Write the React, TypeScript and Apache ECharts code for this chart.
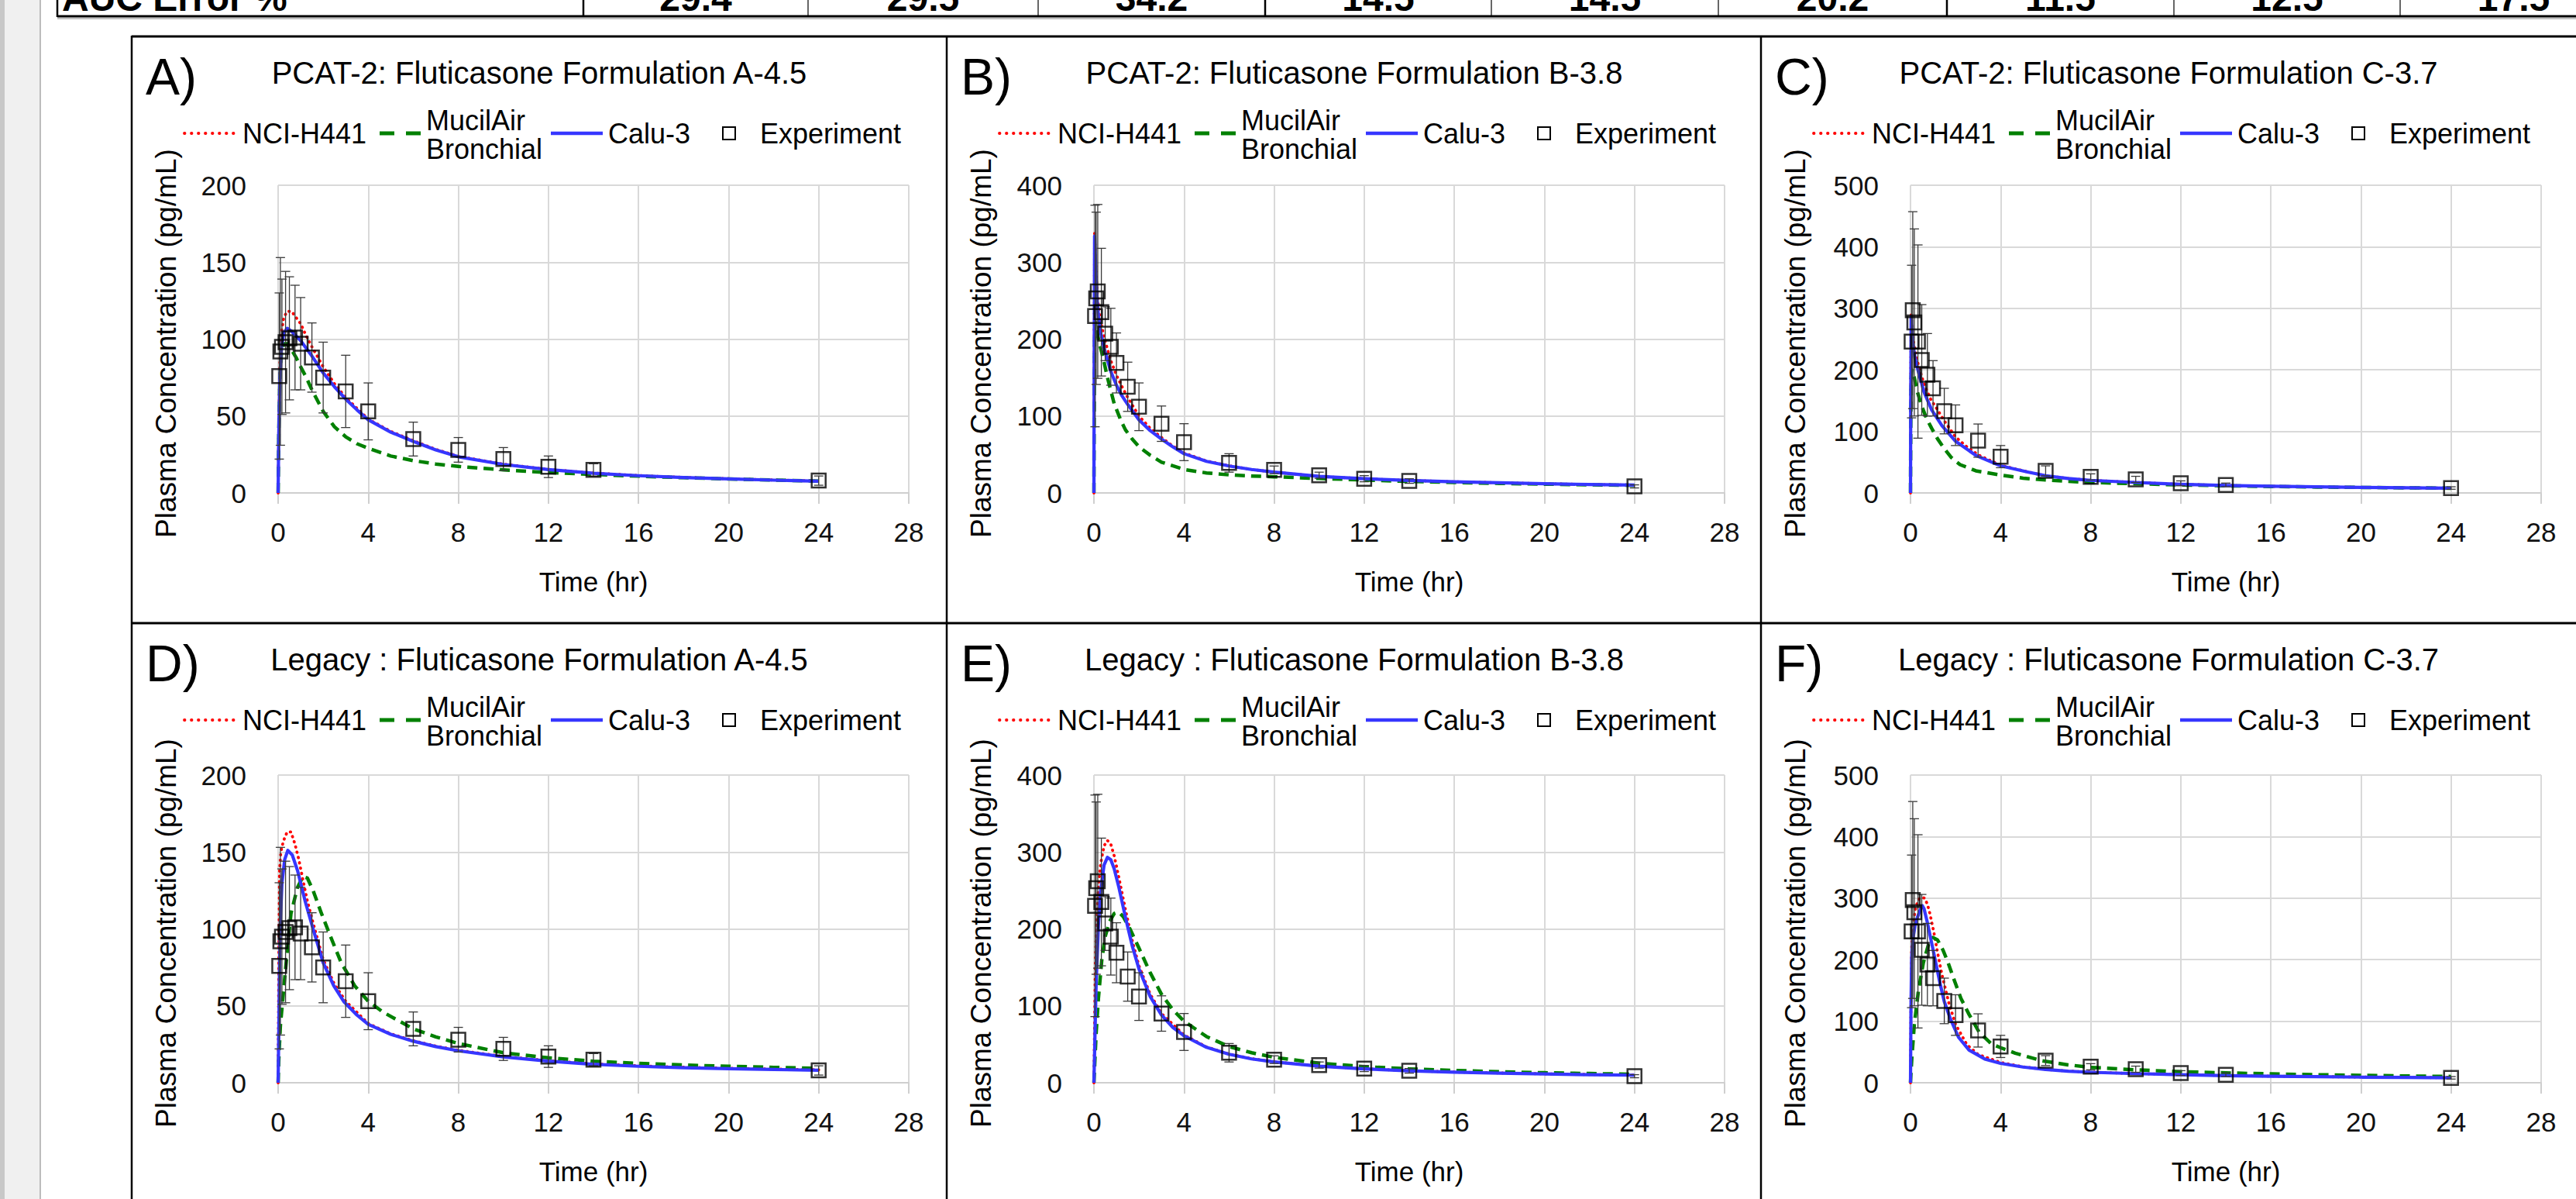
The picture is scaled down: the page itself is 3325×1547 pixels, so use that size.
import { useEffect, useRef } from "react";
import * as echarts from "echarts";

// ---------------- DATA ----------------
const TIME_EXP = [0.05, 0.1, 0.17, 0.33, 0.5, 0.75, 1, 1.5, 2, 3, 4, 6, 8, 10, 12, 14, 24];

const EXP_FORM_A = [76, 92, 95, 98, 100.5, 101, 97, 88, 75, 66, 53, 35, 28, 22, 17, 15, 8];
const SD_FORM_A = [54, 61, 44, 46, 40, 34, 30, 22.5, 23, 23.5, 18.5, 11, 8, 7.5, 7, 4, 3];
const EXP_FORM_B = [230, 253, 262, 235, 207, 190, 169, 138, 112, 90, 66, 39, 30, 23, 18.5, 15.5, 8.5];
const SD_FORM_B = [144, 112, 113, 83, 35, 50, 39, 32, 31, 23, 24, 12, 5, 4, 4, 3, 2];
const EXP_FORM_C = [246, 297, 277, 246, 216, 192, 170, 133, 110, 85, 59, 36, 26, 22, 15.6, 13, 8];
const SD_FORM_C = [124, 160, 152, 157, 90, 67, 45, 37, 33, 27, 18, 8, 5, 5, 4, 3, 2];

// PCAT-2 model curves [time hr, conc pg/mL]
const NCI_PCAT_A = [[0,0],[0.03,45],[0.08,85],[0.15,105],[0.25,114],[0.4,118],[0.6,118],[0.8,114],[1,110],[1.25,102],[1.5,95],[2,82],[2.5,71],[3,62],[3.5,55],[4,48],[5,40],[6,34],[7,28.3],[8,23.8],[10,18.7],[12,15.3],[14,12.9],[16,11.3],[18,10.1],[20,9.2],[22,8.4],[24,7.7]];
const MUC_PCAT_A = [[0,0],[0.03,40],[0.08,75],[0.15,92],[0.25,97],[0.4,97],[0.6,93],[0.8,88],[1,82],[1.25,75],[1.5,67],[2,53],[2.5,43],[3,36.5],[3.5,32],[4,29],[5,24],[6,21],[7,18.8],[8,17.2],[10,15],[12,13.3],[14,12],[16,10.9],[18,9.9],[20,9.1],[22,8.4],[24,7.7]];
const CALU_PCAT_A = [[0,0],[0.03,40],[0.08,75],[0.15,95],[0.25,104],[0.4,107],[0.6,105],[0.8,102],[1,99],[1.25,94],[1.5,89],[2,78],[2.5,69],[3,61],[3.5,54],[4,47.5],[5,39.5],[6,33.5],[7,28],[8,23.5],[10,18.5],[12,15.2],[14,12.8],[16,11.2],[18,10],[20,9.1],[22,8.3],[24,7.6]];

const NCI_PCAT_B = [[0,0],[0.01,150],[0.03,338],[0.06,315],[0.1,285],[0.15,260],[0.2,243],[0.3,222],[0.5,197],[0.75,172],[1,153],[1.25,138],[1.5,124],[2,100],[2.5,84],[3,72],[3.5,61],[4,52],[5,41.5],[6,35.3],[7,30.5],[8,27],[10,21.5],[12,18.5],[14,16.2],[16,14.5],[18,13.2],[20,12],[22,11],[24,10.2]];
const MUC_PCAT_B = [[0,0],[0.01,100],[0.03,210],[0.06,222],[0.1,215],[0.2,200],[0.3,188],[0.45,170],[0.6,150],[0.9,116],[1.2,94],[1.4,82],[1.7,70],[2,60],[2.5,49],[3,40],[4,30.5],[5,26],[6,23.5],[7,22],[8,21],[10,18.8],[12,16.8],[14,15],[16,13.6],[18,12.4],[20,11.4],[22,10.6],[24,9.8]];
const CALU_PCAT_B = [[0,0],[0.01,150],[0.03,334],[0.06,310],[0.1,275],[0.15,248],[0.2,230],[0.3,208],[0.5,183],[0.75,158],[1,140],[1.25,126],[1.5,115],[2,95],[2.5,81],[3,70],[3.5,60],[4,51],[5,41],[6,35],[7,30.5],[8,27],[10,21.5],[12,18.5],[14,16.2],[16,14.5],[18,13.2],[20,12],[22,11],[24,10.2]];

const NCI_PCAT_C = [[0,0],[0.01,150],[0.03,290],[0.06,272],[0.1,255],[0.2,230],[0.37,205],[0.6,177],[0.9,152],[1.2,135],[1.5,117],[2,91],[2.5,75],[3,62],[4,45],[5.2,34.2],[6,28],[7,23.5],[8,20.5],[10,17],[12,14],[14,12],[16,10.8],[18,9.8],[20,9],[22,8.3],[24,7.7]];
const MUC_PCAT_C = [[0,0],[0.01,100],[0.03,190],[0.06,200],[0.1,196],[0.16,189],[0.3,165],[0.48,143],[0.7,122],[0.94,105],[1.2,88],[1.5,72],[1.8,58],[2.2,46],[2.9,36],[4,29],[5,24],[6,21],[7,18.8],[8,17],[10,15],[12,13],[14,11.6],[16,10.5],[18,9.6],[20,8.9],[22,8.3],[24,7.7]];
const CALU_PCAT_C = [[0,0],[0.01,150],[0.03,286],[0.06,265],[0.1,245],[0.2,219],[0.37,194],[0.6,164],[0.94,135],[1.4,109],[2,84],[2.9,61],[4,44],[5.2,34],[6,28],[7,23.5],[8,20.5],[10,17],[12,14],[14,12],[16,10.8],[18,9.8],[20,9],[22,8.3],[24,7.7]];

// Legacy model curves
const NCI_LEG_A = [[0,0],[0.03,80],[0.06,137],[0.12,150],[0.23,157],[0.4,163],[0.57,163],[0.75,155],[0.92,145],[1.1,132],[1.3,118],[1.55,104],[2,80],[2.5,64],[3,53],[4,38.5],[5,31.8],[6,27.3],[7,23.8],[8,21.1],[10,17.1],[12,14.3],[14,12.3],[16,11],[18,10.1],[20,9.4],[22,8.9],[24,8.4]];
const MUC_LEG_A = [[0,0],[0.03,15],[0.06,25],[0.1,37],[0.23,58],[0.4,85],[0.57,110],[0.86,127],[1.1,134],[1.3,133],[1.55,125],[1.9,111],[2.3,96],[2.8,78],[3.4,63],[4,53],[4.65,46],[6,35],[7,29.8],[8,25.5],[10,19.5],[12,16.2],[14,14],[16,12.6],[18,11.5],[20,10.7],[22,10],[24,9.4]];
const CALU_LEG_A = [[0,0],[0.03,35],[0.06,71],[0.1,105],[0.17,130],[0.29,145],[0.43,151],[0.63,148],[0.86,138],[1.2,118],[1.55,100],[2,78],[2.47,63],[2.93,52.5],[3.5,44],[4,38],[5,31.5],[6,27],[7,23.5],[8,20.8],[10,16.8],[12,14],[14,12],[16,10.7],[18,9.8],[20,9.1],[22,8.6],[24,8.1]];

const NCI_LEG_B = [[0,0],[0.03,80],[0.06,150],[0.1,200],[0.2,255],[0.3,285],[0.45,308],[0.6,315],[0.75,310],[0.9,295],[1.1,268],[1.4,225],[1.7,185],[2,152],[2.5,115],[3,90],[4,62],[5,46.5],[6,37.3],[7,31.3],[8,27.2],[10,21.7],[12,18.2],[14,15.7],[16,14],[18,12.7],[20,11.6],[22,10.7],[24,10]];
const MUC_LEG_B = [[0,0],[0.03,20],[0.06,40],[0.1,65],[0.2,110],[0.35,160],[0.5,190],[0.7,210],[0.9,220],[1.1,222],[1.3,216],[1.6,200],[2,175],[2.5,143],[3,115],[3.5,95],[4,80],[5,60],[6,47],[7,39],[8,33],[10,25.5],[12,21],[14,18],[16,16],[18,14.3],[20,13],[22,12],[24,11]];
const CALU_LEG_B = [[0,0],[0.03,40],[0.06,80],[0.1,130],[0.2,205],[0.3,250],[0.45,283],[0.6,293],[0.75,290],[0.9,278],[1.1,255],[1.4,215],[1.7,178],[2,148],[2.5,112],[3,88],[3.5,72],[4,61],[5,46],[6,37],[7,31],[8,27],[10,21.5],[12,18],[14,15.5],[16,13.8],[18,12.5],[20,11.4],[22,10.5],[24,9.8]];

const NCI_LEG_C = [[0,0],[0.02,120],[0.05,215],[0.1,250],[0.2,280],[0.35,298],[0.5,301],[0.63,300],[0.75,290],[0.86,275],[1.03,246],[1.2,212],[1.4,175],[1.7,130],[2,95],[2.5,62],[3,46],[4,33],[5,25.8],[6,21.7],[7,19],[8,17.2],[10,15],[12,13.2],[14,11.8],[16,10.8],[18,10],[20,9.3],[22,8.8],[24,8.3]];
const MUC_LEG_C = [[0,0],[0.02,15],[0.06,40],[0.17,95],[0.35,149],[0.57,195],[0.8,225],[1,236],[1.2,232],[1.45,215],[1.67,195],[1.95,166],[2.24,137],[2.6,111],[3.05,82],[3.6,63],[4,57],[4.65,48],[5.8,36],[7,29],[8,25],[10,21],[12,18],[14,16],[16,14.4],[18,13.1],[20,12],[22,11],[24,10.2]];
const CALU_LEG_C = [[0,0],[0.02,120],[0.05,200],[0.1,232],[0.2,255],[0.3,268],[0.4,278],[0.52,288],[0.6,283],[0.75,260],[0.98,220],[1.15,190],[1.32,160],[1.5,132],[1.78,103],[2.13,74],[2.6,53],[3.3,38.5],[4,31.5],[5,25.5],[6,21.5],[7,18.8],[8,17],[10,14.8],[12,13],[14,11.6],[16,10.6],[18,9.8],[20,9.1],[22,8.6],[24,8.1]];

const PANEL_LABELS = ["A)", "B)", "C)", "D)", "E)", "F)"];
const PANEL_TITLES = [
  "PCAT-2: Fluticasone Formulation A-4.5",
  "PCAT-2: Fluticasone Formulation B-3.8",
  "PCAT-2: Fluticasone Formulation C-3.7",
  "Legacy : Fluticasone Formulation A-4.5",
  "Legacy : Fluticasone Formulation B-3.8",
  "Legacy : Fluticasone Formulation C-3.7",
];
const Y_MAX = [200, 400, 500, 200, 400, 500];
const Y_STEP = [50, 100, 100, 50, 100, 100];
const X_MAX = 28;
const X_STEP = 4;
const SERIES_NAMES = ["NCI-H441", "MucilAir", "Bronchial", "Calu-3", "Experiment"];
const X_TITLE = "Time (hr)";
const Y_TITLE = "Plasma Concentration (pg/mL)";
const TABLE_LABEL = "AUC Error %";
const TABLE_VALUES = ["29.4", "29.5", "34.2", "14.5", "14.5", "20.2", "11.5", "12.5", "17.5"];

const NCI_CURVES = [NCI_PCAT_A, NCI_PCAT_B, NCI_PCAT_C, NCI_LEG_A, NCI_LEG_B, NCI_LEG_C];
const MUC_CURVES = [MUC_PCAT_A, MUC_PCAT_B, MUC_PCAT_C, MUC_LEG_A, MUC_LEG_B, MUC_LEG_C];
const CALU_CURVES = [CALU_PCAT_A, CALU_PCAT_B, CALU_PCAT_C, CALU_LEG_A, CALU_LEG_B, CALU_LEG_C];
const EXP_SETS = [EXP_FORM_A, EXP_FORM_B, EXP_FORM_C, EXP_FORM_A, EXP_FORM_B, EXP_FORM_C];
const SD_SETS = [SD_FORM_A, SD_FORM_B, SD_FORM_C, SD_FORM_A, SD_FORM_B, SD_FORM_C];

// ---------------- LAYOUT ----------------
const W = 3325;
const H = 1547;
const FONT = '"Liberation Sans", Arial, sans-serif';
const PANEL_X = [170, 1222, 2273];
const TEXT_BASE = [0, 757];
const PLOT_L = [359, 1412, 2466];
const PLOT_T = [239, 1000];
const PLOT_W = 814;
const PLOT_H = 397;
const RED = "#ff0000";
const GREEN = "#008000";
const BLUE = "#3636ff";
const GRID_C = "#d9d9d9";

function txt(text: string, x: number, y: number, size: number, align = "left", extra: any = {}) {
  return {
    type: "text",
    x,
    y,
    z: 20,
    silent: true,
    style: {
      text,
      fill: "#000",
      font: `${extra.weight || "normal"} ${size}px ${FONT}`,
      align,
      verticalAlign: "middle",
      textAlign: align,
      textVerticalAlign: "middle",
    },
    ...(extra.rotation ? { rotation: extra.rotation } : {}),
  };
}

function ln(x1: number, y1: number, x2: number, y2: number, stroke: string, lineWidth: number, lineDash?: number[], cap = "butt") {
  return {
    type: "line",
    z: 20,
    silent: true,
    shape: { x1, y1, x2, y2 },
    style: { stroke, lineWidth, lineDash, lineCap: cap },
  };
}

function buildOption() {
  const grid: any[] = [];
  const xAxis: any[] = [];
  const yAxis: any[] = [];
  const series: any[] = [];
  const graphic: any[] = [];

  // left strip
  graphic.push({ type: "rect", shape: { x: 0, y: 0, width: 6, height: H }, style: { fill: "#c8c8c8" }, silent: true });
  graphic.push({ type: "rect", shape: { x: 6, y: 0, width: 46, height: H }, style: { fill: "#f0f0f0" }, silent: true });
  graphic.push(ln(52, 0, 52, H, "#a8a8a8", 1.5));

  // table fragment at the top (its text is cut by the page edge, as in the source)
  const colLines = [753, 1043, 1340, 1633, 1925, 2218, 2513, 2806, 3098];
  const thick = [753, 1633, 2513];
  graphic.push(ln(74, 0, 74, 22, "#000", 2.5));
  colLines.forEach((cx) => graphic.push(ln(cx, 0, cx, 21, "#000", thick.includes(cx) ? 2.5 : 1.2)));
  graphic.push(ln(74, 21, W, 21, "#000", 3));
  graphic.push(ln(74, 24, W, 24, "#b0b0b0", 1.5));
  graphic.push(txt(TABLE_LABEL, 80, -3, 48, "left", { weight: "bold" }));
  const bounds = [...colLines, 3391];
  TABLE_VALUES.forEach((v, k) => {
    graphic.push(txt(v, (bounds[k] + bounds[k + 1]) / 2, -3, 48, "center", { weight: "bold" }));
  });

  // panel frame
  graphic.push(ln(170, 47, W, 47, "#000", 3));
  graphic.push(ln(170, 804, W, 804, "#000", 3));
  PANEL_X.forEach((px) => graphic.push(ln(px, 46, px, H, "#000", 2.5)));

  for (let i = 0; i < 6; i++) {
    const col = i % 3;
    const row = Math.floor(i / 3);
    const pl = PANEL_X[col];
    const tb = TEXT_BASE[row];
    const left = PLOT_L[col];
    const top = PLOT_T[row];

    grid.push({ left, top, width: PLOT_W, height: PLOT_H, containLabel: false });
    xAxis.push({
      type: "value",
      gridIndex: i,
      min: 0,
      max: X_MAX,
      interval: X_STEP,
      axisLine: { show: true, onZero: false, lineStyle: { color: "#cfcfcf", width: 2 } },
      axisTick: { show: true, length: 14, lineStyle: { color: "#cfcfcf", width: 2 } },
      axisLabel: { fontSize: 35, color: "#111", margin: 33, fontFamily: FONT },
      splitLine: { show: true, lineStyle: { color: GRID_C, width: 2 } },
    });
    yAxis.push({
      type: "value",
      gridIndex: i,
      min: 0,
      max: Y_MAX[i],
      interval: Y_STEP[i],
      axisLine: { show: false },
      axisTick: { show: false },
      axisLabel: { fontSize: 35, color: "#111", margin: 41, fontFamily: FONT },
      splitLine: { show: true, lineStyle: { color: GRID_C, width: 2 } },
    });

    const common = { xAxisIndex: i, yAxisIndex: i, showSymbol: false, symbol: "none", silent: true, smooth: false };
    series.push({
      ...common,
      type: "line",
      name: SERIES_NAMES[0],
      data: NCI_CURVES[i],
      z: 2,
      lineStyle: { color: RED, width: 3.8, type: [0.5, 6.5], cap: "round", join: "round" },
    });
    series.push({
      ...common,
      type: "line",
      name: "MucilAir Bronchial",
      data: MUC_CURVES[i],
      z: 3,
      lineStyle: { color: GREEN, width: 4.5, type: [13, 8], join: "round" },
    });
    series.push({
      ...common,
      type: "line",
      name: SERIES_NAMES[3],
      data: CALU_CURVES[i],
      z: 4,
      lineStyle: { color: BLUE, width: 4.2, type: "solid", join: "round" },
    });
    const exp = EXP_SETS[i];
    const sd = SD_SETS[i];
    series.push({
      type: "custom",
      xAxisIndex: i,
      yAxisIndex: i,
      silent: true,
      z: 5,
      data: TIME_EXP.map((t, k) => [t, exp[k] - sd[k], exp[k] + sd[k]]),
      encode: { x: 0, y: [1, 2] },
      renderItem: (_p: any, api: any) => {
        const t = api.value(0);
        const lo = api.coord([t, api.value(1)]);
        const hi = api.coord([t, api.value(2)]);
        const w = 6;
        const st = { stroke: "#3a3a3a", lineWidth: 1.3 };
        return {
          type: "group",
          children: [
            { type: "line", shape: { x1: lo[0], y1: lo[1], x2: hi[0], y2: hi[1] }, style: st },
            { type: "line", shape: { x1: hi[0] - w, y1: hi[1], x2: hi[0] + w, y2: hi[1] }, style: st },
            { type: "line", shape: { x1: lo[0] - w, y1: lo[1], x2: lo[0] + w, y2: lo[1] }, style: st },
          ],
        };
      },
    });
    series.push({
      type: "scatter",
      name: SERIES_NAMES[4],
      xAxisIndex: i,
      yAxisIndex: i,
      silent: true,
      z: 6,
      symbol: "rect",
      symbolSize: 18,
      data: TIME_EXP.map((t, k) => [t, exp[k]]),
      itemStyle: { color: "rgba(0,0,0,0)", borderColor: "#000", borderWidth: 2.5 },
    });

    // texts
    graphic.push(txt(PANEL_LABELS[i], pl + 18, tb + 99, 66, "left"));
    graphic.push(txt(PANEL_TITLES[i], pl + 526, tb + 94, 40, "center"));
    const ly = tb + 172;
    graphic.push(ln(pl + 68, ly, pl + 133, ly, RED, 3.8, [0.5, 8.5], "round"));
    graphic.push(txt(SERIES_NAMES[0], pl + 143, ly, 36, "left"));
    graphic.push(ln(pl + 320, ly, pl + 373, ly, GREEN, 5, [19, 15]));
    graphic.push(txt(SERIES_NAMES[1], pl + 380, ly - 17, 36, "left"));
    graphic.push(txt(SERIES_NAMES[2], pl + 380, ly + 20, 36, "left"));
    graphic.push(ln(pl + 541, ly, pl + 608, ly, BLUE, 4.5));
    graphic.push(txt(SERIES_NAMES[3], pl + 615, ly, 36, "left"));
    graphic.push({
      type: "rect",
      z: 20,
      silent: true,
      shape: { x: pl + 763, y: ly - 8, width: 16, height: 16 },
      style: { fill: "none", stroke: "#000", lineWidth: 2 },
    });
    graphic.push(txt(SERIES_NAMES[4], pl + 811, ly, 36, "left"));

    graphic.push(txt(X_TITLE, left + PLOT_W / 2, top + PLOT_H + 114, 35, "center"));
    graphic.push(txt(Y_TITLE, pl + 44, top + 204, 37, "center", { rotation: Math.PI / 2 }));
  }

  return {
    animation: false,
    backgroundColor: "#ffffff",
    textStyle: { fontFamily: FONT },
    grid,
    xAxis,
    yAxis,
    series,
    graphic: { elements: graphic },
  };
}

export default function App() {
  const ref = useRef<HTMLDivElement>(null);
  useEffect(() => {
    document.body.style.margin = "0";
    if (!ref.current) return;
    const chart = echarts.init(ref.current, undefined, { renderer: "svg", width: W, height: H });
    chart.setOption(buildOption() as any);
    return () => chart.dispose();
  }, []);
  return <div ref={ref} style={{ width: W, height: H, overflow: "hidden", background: "#fff" }} />;
}
